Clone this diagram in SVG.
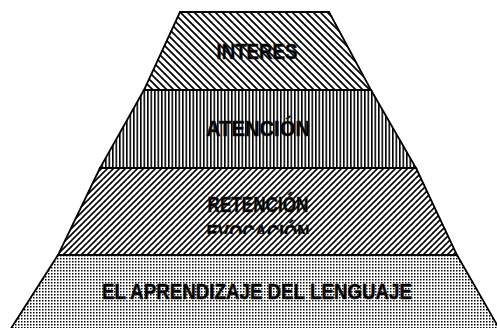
<svg xmlns="http://www.w3.org/2000/svg" width="497" height="328" viewBox="0 0 497 328">
<style>
.tier{stroke:#000;stroke-width:1.8;stroke-linejoin:miter}
.lbl{font-family:"Liberation Sans",Arial,sans-serif;font-weight:bold;font-size:22px;fill:#000;text-anchor:middle;stroke:#222;stroke-width:0.6}
</style>
<defs>
<pattern id="pDown" width="7" height="7" patternUnits="userSpaceOnUse">
<rect width="7" height="7" fill="#fff"/>
<path d="M-2,-2 L9,9 M-2,5 L2,9 M5,-2 L9,2" stroke="#000" stroke-width="1.7"/>
</pattern>
<pattern id="pVert" width="3.5" height="4" patternUnits="userSpaceOnUse">
<rect width="3.5" height="4" fill="#fff"/>
<rect x="0" y="0" width="1.6" height="4" fill="#000"/>
</pattern>
<pattern id="pUp" width="6" height="6" patternUnits="userSpaceOnUse">
<rect width="6" height="6" fill="#fff"/>
<path d="M-2,8 L8,-2 M-2,2 L2,-2 M4,8 L8,4" stroke="#000" stroke-width="1.6"/>
</pattern>
<pattern id="pDots" width="3" height="3" patternUnits="userSpaceOnUse">
<rect width="3" height="3" fill="#fff"/>
<rect x="0" y="0" width="1.5" height="1.5" fill="#000"/>
</pattern>
<clipPath id="clipEvo"><rect x="0" y="160" width="497" height="74"/></clipPath>
</defs>
<g id="tier-lenguaje">
<polygon class="tier" points="58,255 457,255 500,330 10,330" fill="url(#pDots)"/>
<text class="lbl" x="257" y="299" textLength="310" lengthAdjust="spacingAndGlyphs">EL APRENDIZAJE DEL LENGUAJE</text>
</g>
<g id="tier-retencion">
<polygon class="tier" points="100,168 416,168 457,255 58,255" fill="url(#pUp)"/>
<text class="lbl" x="258" y="212" textLength="101" lengthAdjust="spacingAndGlyphs">RETENCIÓN</text>
<text class="lbl" x="258" y="240" textLength="103" lengthAdjust="spacingAndGlyphs" clip-path="url(#clipEvo)">EVOCACIÓN</text>
</g>
<g id="tier-atencion">
<polygon class="tier" points="144,90 371,90 416,168 100,168" fill="url(#pVert)"/>
<text class="lbl" x="258" y="136" textLength="104" lengthAdjust="spacingAndGlyphs">ATENCIÓN</text>
</g>
<g id="tier-interes">
<polygon class="tier" points="180,12 329,12 371,90 144,90" fill="url(#pDown)"/>
<text class="lbl" x="257" y="59" textLength="81" lengthAdjust="spacingAndGlyphs">INTERES</text>
</g>
</svg>
